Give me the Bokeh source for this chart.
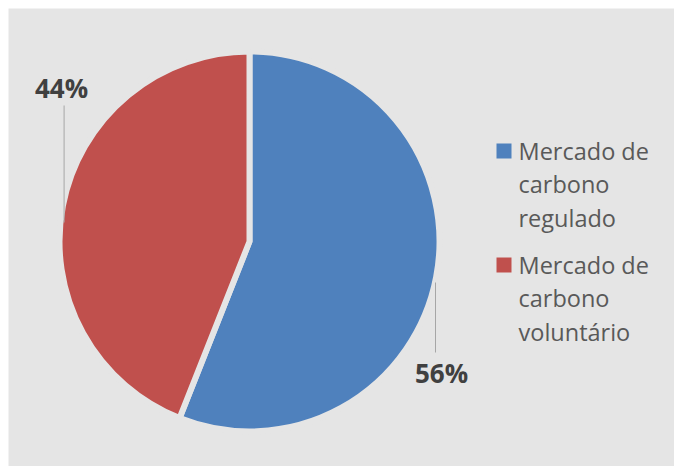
import math
from bokeh.plotting import figure
from bokeh.models import Range1d, ColumnDataSource
from bokeh.core.properties import value
from bokeh.embed import file_html
from bokeh.resources import INLINE

# ---- data ----
categories = ["Mercado de\ncarbono\nregulado", "Mercado de\ncarbono\nvoluntário"]
shares = [56, 44]
colors = ["#4f81bd", "#c0504d"]

# ---- layout ----
FW, FH = 666, 458
BG = "#e5e5e5"

def px(xp):  # page x -> data x
    return xp - 8

def py(yp):  # page y -> data y
    return 466 - yp

cx, cy = px(249), py(241)
R = 190

p = figure(width=FW + 8, height=FH + 8, output_backend="svg", toolbar_location=None,
           x_range=Range1d(0, FW), y_range=Range1d(0, FH),
           min_border_left=8, min_border_top=8, min_border_right=0, min_border_bottom=0)
p.axis.visible = False
p.grid.visible = False
p.outline_line_color = None
p.background_fill_color = BG
p.border_fill_color = "white"

total = sum(shares)
starts, ends = [], []
a = math.pi / 2
for s in shares:
    starts.append(a)
    a = a - s / total * 2 * math.pi
    ends.append(a)

src = ColumnDataSource(dict(x=[cx] * len(shares), y=[cy] * len(shares),
                            start=starts, end=ends, color=colors))
p.wedge(x="x", y="y", radius=R, radius_units="screen", start_angle="start",
        end_angle="end", direction="clock", fill_color="color",
        line_color=BG, line_width=6, source=src)

# percent labels with leader lines (Excel best-fit positions)
lab_pos = [(441, 372), (61, 87)]
lead = [((435, 282), (435, 352)), ((63.6, 105), (63.6, 222))]
for i, s in enumerate(shares):
    (x0, y0), (x1, y1) = lead[i]
    p.line([px(x0), px(x1)], [py(y0), py(y1)], line_color="#a6a6a6", line_width=1)
    p.text(x=[px(lab_pos[i][0])], y=[py(lab_pos[i][1])], text=[f"{s}%"],
           text_font=value("Open Sans"), text_font_style="bold",
           text_font_size="26px", text_color="#404040",
           text_align="center", text_baseline="alphabetic")

# legend drawn manually
sq_x, text_x = 503.5, 518
sq_y = [150.5, 264.5]
group_top = [150, 264]
line_step = 33.5
for i, cat in enumerate(categories):
    p.rect(x=[px(sq_x)], y=[py(sq_y[i])], width=15, height=15,
           width_units="screen", height_units="screen",
           fill_color=colors[i], line_color=None)
    for j, ln in enumerate(cat.split("\n")):
        p.text(x=[px(text_x)], y=[py(group_top[i] + j * line_step)], text=[ln],
               text_font=value("Open Sans"), text_font_size="23.5px",
               text_color="#595959", text_align="left", text_baseline="alphabetic")

open("out.html", "w").write(file_html(p, INLINE))
